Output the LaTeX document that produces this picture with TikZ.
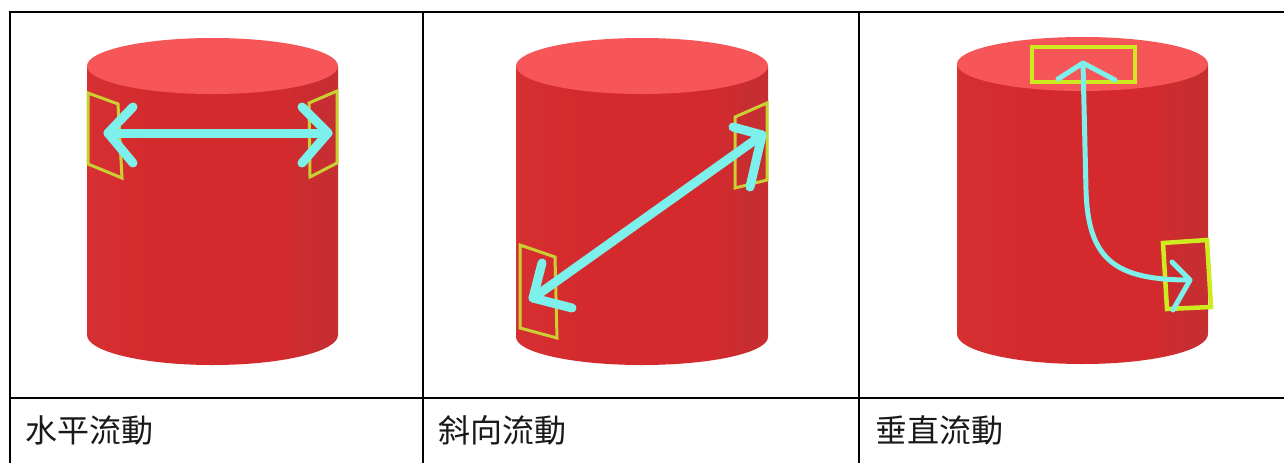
\documentclass[tikz,border=0pt]{standalone}
\usepackage{fontspec}
\newfontfamily\cjk{Noto Sans CJK TC}

\definecolor{sideL}{RGB}{214,48,50}
\definecolor{sideM}{RGB}{212,42,45}
\definecolor{sideR}{RGB}{198,46,49}
\definecolor{topface}{RGB}{247,86,88}
\definecolor{flow}{RGB}{125,240,236}
\definecolor{markA}{RGB}{202,208,50}
\definecolor{markB}{RGB}{205,235,30}

% side of a cylinder: slightly darker towards the right edge
\pgfdeclarehorizontalshading{cylside}{100bp}{color(0bp)=(sideL); color(25bp)=(sideL); color(38bp)=(sideM); color(63bp)=(sideM); color(72bp)=(sideR); color(100bp)=(sideR)}

\tikzset{
  gridline/.style={line width=2pt, black},
  flowline/.style={flow, line width=9pt, line cap=round, line join=round},
  thinflow/.style={flow, line width=5pt, line cap=round, line join=round},
  zoneA/.style={markA, line width=3pt, line join=miter},
  zoneB/.style={markB, line width=4.5pt, line join=miter},
  caption/.style={font=\cjk\fontsize{32}{32}\selectfont, text=black!90, anchor=west, inner sep=0pt},
}

% #1 centre x, #2 radius x, #3 top centre y, #4 top radius y, #5 bottom centre y, #6 bottom radius y
\newcommand\drawcyl[6]{%
  \shade[shading=cylside] ({#1-#2},#3) -- ({#1-#2},#5)
     arc[start angle=180, end angle=360, x radius=#2, y radius=#6]
     -- ({#1+#2},#3) -- cycle;
  \fill[topface] (#1,#3) ellipse[x radius=#2, y radius=#4];
}

\begin{document}
\begin{tikzpicture}[x=1pt,y=1pt]
\useasboundingbox (0,0) rectangle (1284,-463);
\fill[white] (0,0) rectangle (1284,-463);

% table rules
\draw[gridline] (9,-12) -- (1284,-12);
\draw[gridline] (9,-398) -- (1284,-398);
\draw[gridline] (10,-11) -- (10,-463);
\draw[gridline] (423,-11) -- (423,-463);
\draw[gridline] (859,-11) -- (859,-463);

% cylinders
\drawcyl{212.5}{125.5}{-66}{28}{-335}{30}
\drawcyl{642}{126}{-66}{28}{-337}{28}
\drawcyl{1082.5}{125.5}{-64}{27}{-334}{30}

% --- horizontal flow ---
\draw[zoneA] (88,-93) -- (118,-104) -- (122,-178) -- (88,-164) -- cycle;
\draw[zoneA] (309,-103) -- (337,-91) -- (337,-163) -- (310,-177) -- cycle;
\coordinate (hL) at (108,-133);
\coordinate (hR) at (328,-133);
\coordinate (hLa) at (133,-107);
\coordinate (hLb) at (133,-163);
\coordinate (hRa) at (302,-107);
\coordinate (hRb) at (302,-163);
\draw[flowline] (hL) -- (hR);
\draw[flowline] (hLa) -- (hL) -- (hLb);
\draw[flowline] (hRa) -- (hR) -- (hRb);

% --- diagonal flow ---
\draw[zoneA] (735,-117) -- (767,-103) -- (767,-180) -- (735,-188) -- cycle;
\draw[zoneA] (520,-245) -- (555,-257) -- (557,-338) -- (520,-328) -- cycle;
\coordinate (dU) at (762,-135);
\coordinate (dD) at (533,-298);
\coordinate (dUa) at (733,-127);
\coordinate (dUb) at (750,-187);
\coordinate (dDa) at (542,-263);
\coordinate (dDb) at (572,-308);
\draw[flowline] (dD) -- (dU);
\draw[flowline] (dUa) -- (dU) -- (dUb);
\draw[flowline] (dDa) -- (dD) -- (dDb);

% --- vertical flow ---
\draw[zoneB] (1032,-47) rectangle (1135,-82);
\draw[zoneB] (1163,-243) -- (1207,-240) -- (1211,-307) -- (1167,-309) -- cycle;
\coordinate (vT) at (1083,-63);
\coordinate (vB) at (1190,-280);
\coordinate (vTa) at (1058,-79);
\coordinate (vTb) at (1115,-80);
\coordinate (vBa) at (1172,-262);
\coordinate (vBb) at (1173,-310);
\draw[thinflow] (vT) -- (1086,-190) .. controls (1088,-260) and (1115,-280) .. (vB);
\draw[thinflow] (vTa) -- (vT) -- (vTb);
\draw[thinflow] (vBa) -- (vB) -- (vBb);

% captions
\node[caption] (c1) at (25,-430) {水平流動};
\node[caption] (c2) at (438,-430) {斜向流動};
\node[caption] (c3) at (875,-430) {垂直流動};
\end{tikzpicture}
\end{document}
